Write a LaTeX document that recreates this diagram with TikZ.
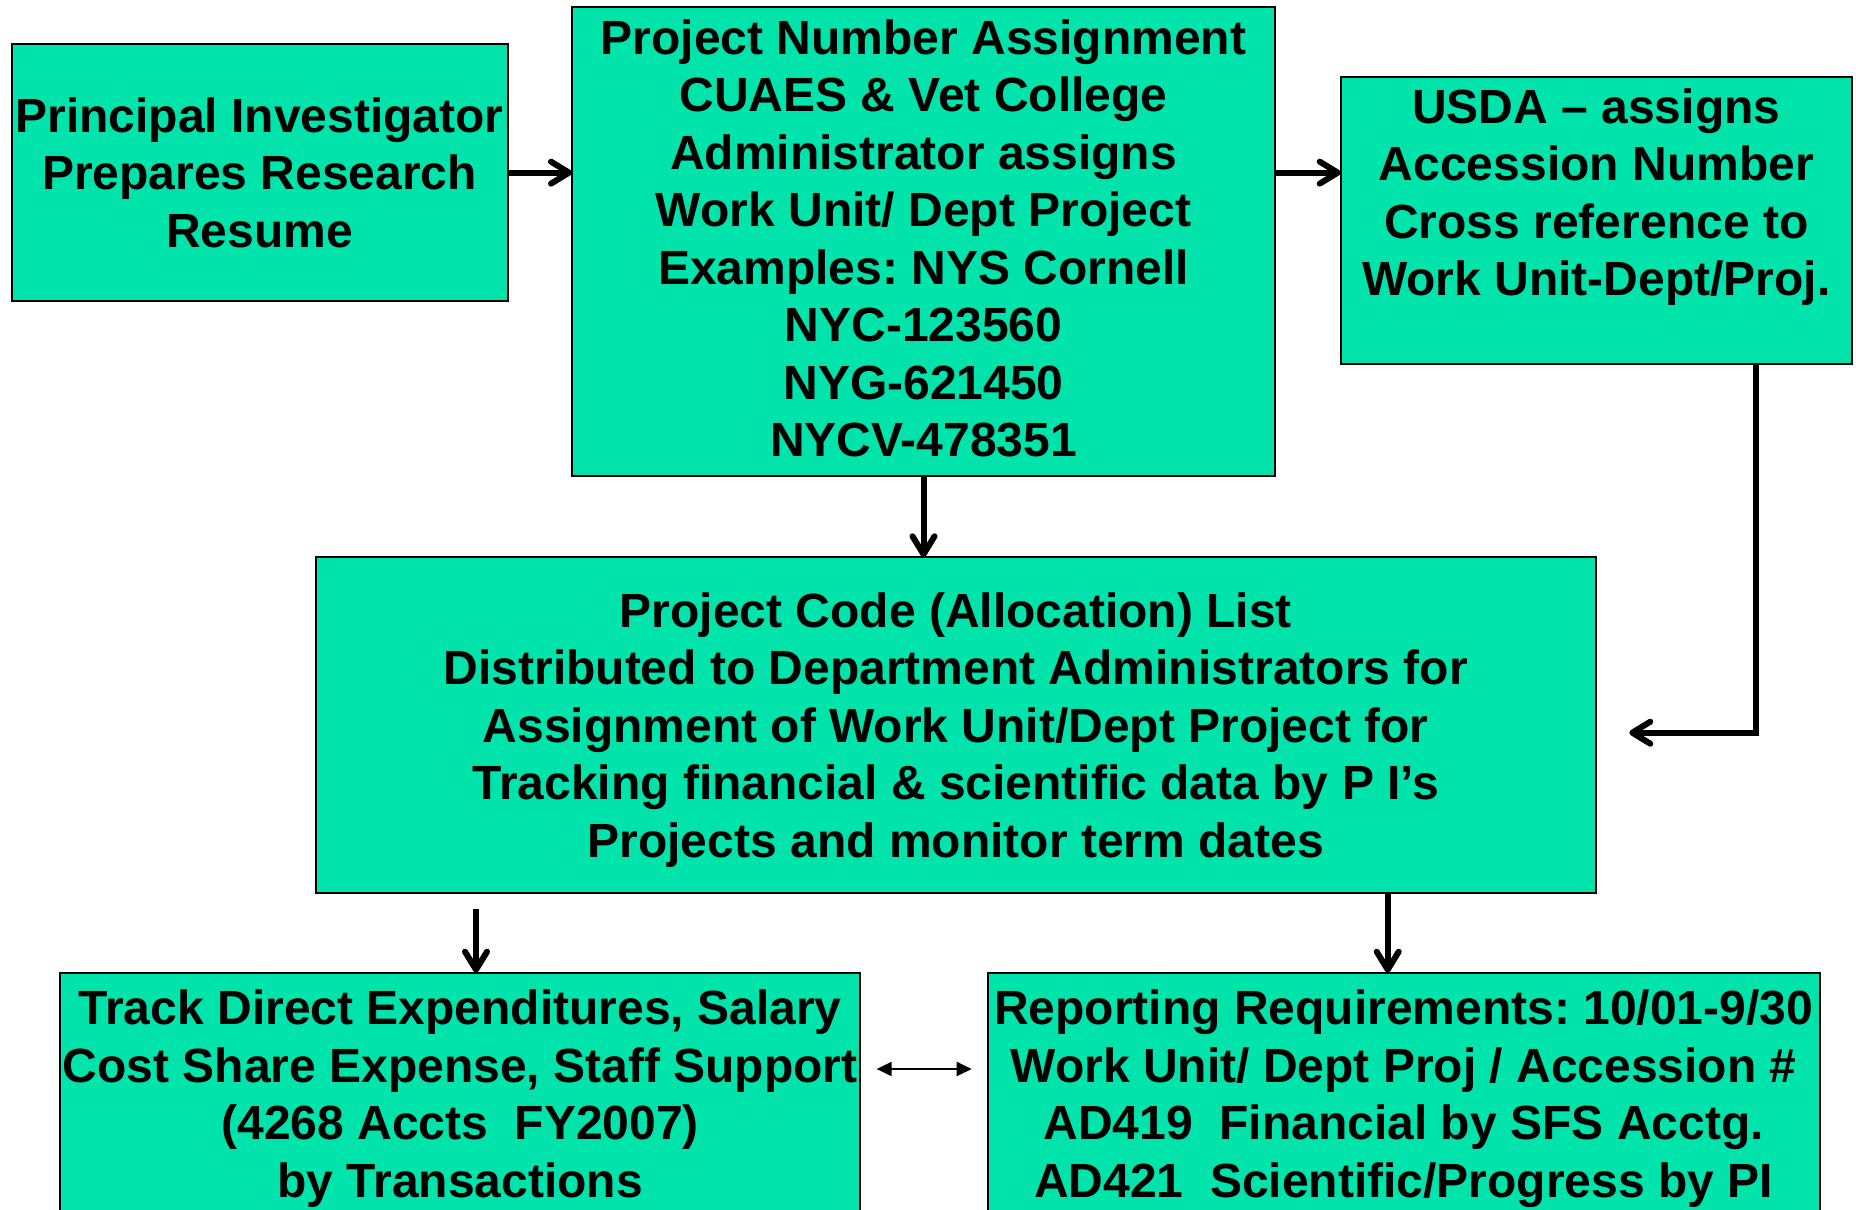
\documentclass[tikz,border=0pt]{standalone}
\usepackage{fontspec}
\setmainfont{Liberation Sans}
\usetikzlibrary{arrows.meta}
\definecolor{boxgreen}{RGB}{0,227,170}
\frenchspacing
\begin{document}
\begin{tikzpicture}[x=0.5pt,y=-0.5pt,
  box/.style={draw=black, line width=1pt, fill=boxgreen, inner sep=0pt, outer sep=0pt,
    align=center, font=\bfseries\fontsize{24}{28.75}\selectfont},
  arr/.style={line width=3pt, -{Straight Barb[length=9pt,width=11pt,round]}},
  dbl/.style={line width=1pt, {Triangle[length=7.5pt,width=7pt]}-{Triangle[length=7.5pt,width=7pt]}}]
\useasboundingbox (0,0) rectangle (1856,1209);

\node[box, minimum width=496.2*0.5pt, minimum height=256.7*0.5pt] (pi) at (259.6,172.65)
  {Principal Investigator\\Prepares Research\\Resume};
\node[box, minimum width=703*0.5pt, minimum height=469*0.5pt] (proj) at (923.5,241.5)
  {Project Number Assignment\\CUAES \& Vet College\\Administrator assigns\\Work Unit/ Dept Project\\Examples: NYS Cornell\\NYC-123560\\NYG-621450\\NYCV-478351\rule[-3.5pt]{0pt}{3.5pt}};
\node[box, minimum width=511.3*0.5pt, minimum height=287*0.5pt] (usda) at (1596.35,220.8)
  {USDA – assigns\\Accession Number\\Cross reference to\\Work Unit-Dept/Proj.\\\mbox{}};
\node[box, minimum width=1280*0.5pt, minimum height=335.2*0.5pt] (code) at (955.7,724.9)
  {Project Code (Allocation) List\\Distributed to Department Administrators for\\Assignment of Work Unit/Dept Project for\\Tracking financial \& scientific data by P I’s\\\raisebox{0pt}[\height][0pt]{Projects and monitor term dates}};
\node[box, minimum width=799.7*0.5pt, minimum height=251.6*0.5pt] (track) at (460.15,1098.5)
  {Track Direct Expenditures, Salary\\Cost Share Expense, Staff Support\\(4268 Accts~~FY2007)\\by Transactions};
\node[box, minimum width=831.8*0.5pt, minimum height=251.6*0.5pt] (rep) at (1403.6,1098.5)
  {Reporting Requirements: 10/01-9/30\\Work Unit/ Dept Proj / Accession \#\\AD419~~Financial by SFS Acctg.\\AD421~~Scientific/Progress by PI};

\coordinate (bend) at (1756,732.7);
\coordinate (xtrack) at (476,0);
\coordinate (xrep) at (1387.7,0);
\coordinate (ydbl) at (0,1069);

\draw[arr] (pi.east) -- (proj.west |- pi.east);
\draw[arr] (proj.east |- pi.east) -- (usda.west |- pi.east);
\draw[arr] (proj.south) -- (code.north -| proj.south);
\draw[arr] (usda.south -| bend) -- (bend) -- ([xshift=16.8pt]code.east |- bend);
\draw[arr, shorten <=8.3pt] (code.south -| xtrack) -- (track.north -| xtrack);
\draw[arr] (code.south -| xrep) -- (rep.north -| xrep);
\draw[dbl, shorten <=8.3pt, shorten >=8pt] (track.east |- ydbl) -- (rep.west |- ydbl);
\end{tikzpicture}
\end{document}
